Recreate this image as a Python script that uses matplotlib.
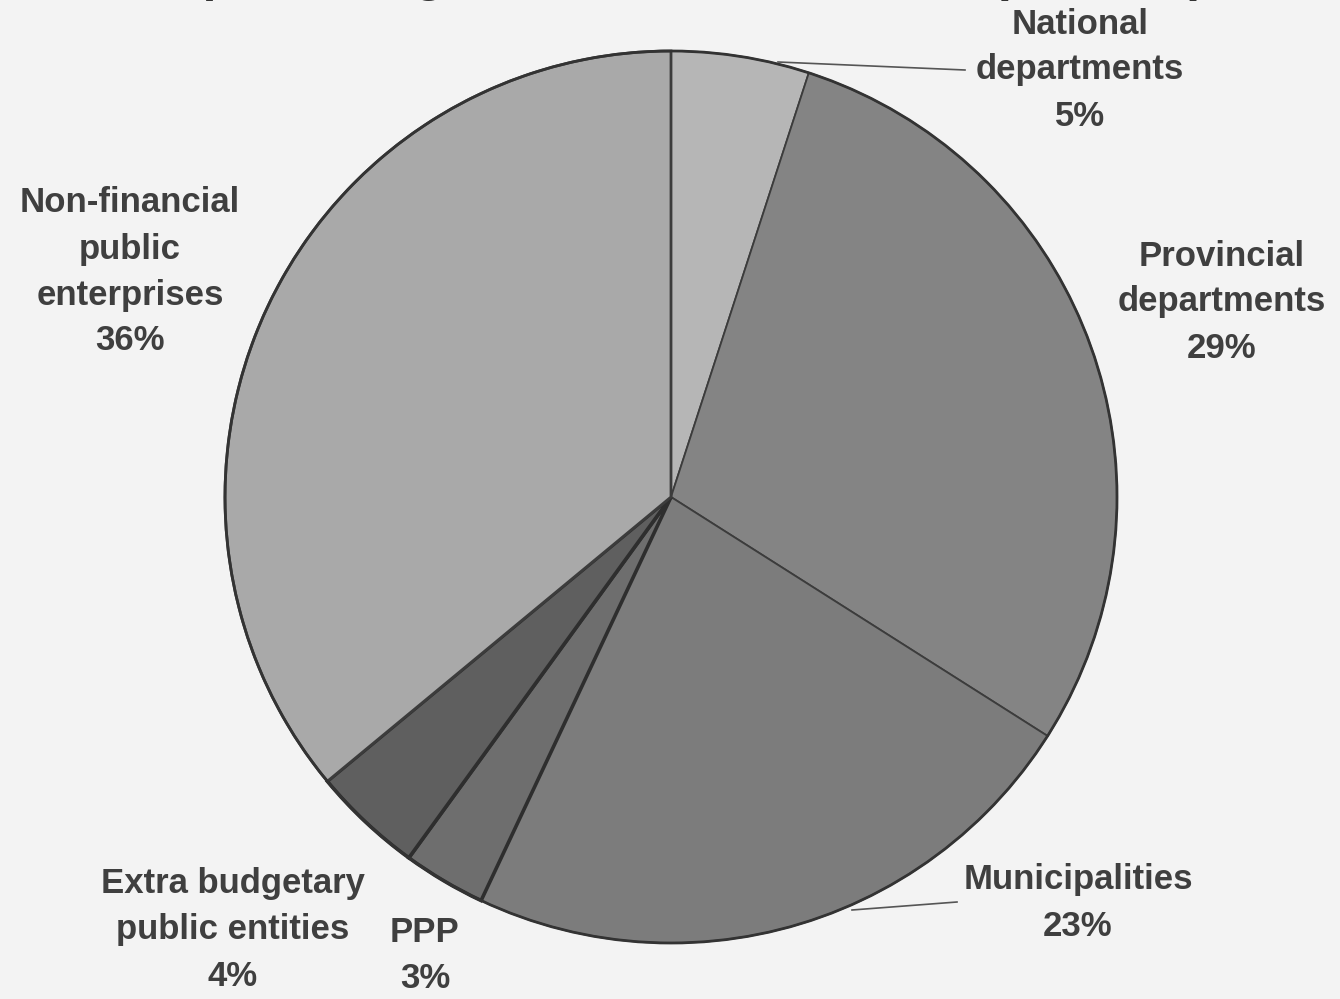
import matplotlib
matplotlib.use("Agg")
import matplotlib.pyplot as plt

# Shares by sphere of government / entity type (percent)
categories = ["National\ndepartments", "Provincial\ndepartments", "Municipalities",
              "PPP", "Extra budgetary\npublic entities", "Non-financial\npublic\nenterprises"]
shares = [5, 29, 23, 3, 4, 36]
colors = ["#b6b6b6", "#848484", "#7c7c7c", "#6e6e6e", "#5f5f5f", "#a9a9a9"]

W, H = 1340, 999
fig = plt.figure(figsize=(W / 100, H / 100), dpi=100, facecolor="#f3f3f3")
ax = fig.add_axes([0, 0, 1, 1])

cx, cy, r = 671, H - 497, 446
wedges, _ = ax.pie(shares, colors=colors, startangle=90, counterclock=False,
                   center=(cx, cy), radius=r, frame=True,
                   wedgeprops=dict(edgecolor="#3c3c3c", linewidth=1.3))
ax.set_xlim(0, W)
ax.set_ylim(0, H)
ax.set_aspect("equal")
ax.axis("off")
# darker, heavier borders around the two small slices
for i in (3, 4):
    wedges[i].set_linewidth(2.6)
    wedges[i].set_edgecolor("#2e2e2e")
wedges[5].set_linewidth(2.0)

# outer rim
rim = plt.Circle((cx, cy), r, fill=False, edgecolor="#333333", linewidth=2.0)
ax.add_patch(rim)

font = dict(family="Liberation Sans", fontsize=25, fontweight="bold",
            color="#3f3f3f", ha="center", va="center", linespacing=1.5)

def px(x, y):
    return x, H - y

label_pos = [(1080, 70), (1222, 302), (1078, 903), (425, 956), (233, 930), (130, 272)]
for name, val, (lx, ly) in zip(categories, shares, label_pos):
    ax.text(*px(lx, ly), f"{name}\n{val}%", **font)

# leader lines
ax.plot(*zip(px(778, 62), px(965, 70)), color="#555555", linewidth=1.2)
ax.plot(*zip(px(852, 910), px(957, 902)), color="#555555", linewidth=1.2)

# title, running off the top edge
ax.text(*px(690, -22), "sphere of government investment (2006/07)",
        family="Liberation Sans", fontsize=36, fontweight="bold", color="#333333",
        ha="center", va="center")

fig.savefig("out.png", dpi=100, facecolor=fig.get_facecolor())
